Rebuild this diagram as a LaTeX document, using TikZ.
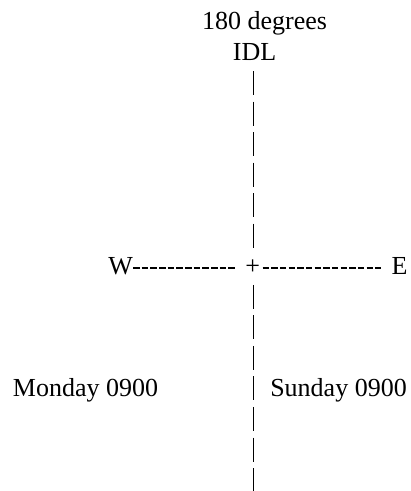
\documentclass[tikz,border=0pt]{standalone}
\usepackage{fontspec}
\setmainfont{Liberation Serif}
\begin{document}
\begin{tikzpicture}[x=1pt,y=-1pt,
  labeltext/.style={font=\fontsize{26}{30}\selectfont, inner sep=0pt, anchor=base},
  pipe/.style={line width=1.4pt, dash pattern=on 24pt off 6.54pt},
  hyph/.style={line width=2pt, dash pattern=on 6.5pt off 2.17pt}]
\useasboundingbox (0,0) rectangle (411,491);

% labels
\node[labeltext] (deg)  at (264.5,29.7)  {180 degrees};
\node[labeltext] (idl)  at (254.5,60.2) {IDL};
\node[labeltext, anchor=base east] (w) at (133,274) {W};
\node[labeltext] (plus) at (252.7,274) {+};
\node[labeltext, anchor=base west] (e) at (391.5,274) {E};
\node[labeltext] (mon)  at (85.5,396.2)  {Monday 0900};
\node[labeltext] (sun)  at (338.5,396.2) {Sunday 0900};

% ends of the date line, above and below the crossing
\coordinate (axtop)  at (253.3,71);
\coordinate (axgapN) at (253.3,248);
\coordinate (axgapS) at (253.3,284.8);
\coordinate (axbot)  at (253.3,492);

% international date line
\draw[pipe] (axtop) -- (axgapN);
\draw[pipe] (axgapS) -- (axbot);

% west--east line through the crossing
\draw[hyph] ([yshift=5.7pt]w.base east) -- ([yshift=5.7pt,xshift=-9pt]plus.base west);
\draw[hyph] ([yshift=5.7pt,xshift=2.3pt]plus.base east) -- ([yshift=5.7pt,xshift=-10.5pt]e.base west);
\end{tikzpicture}
\end{document}
